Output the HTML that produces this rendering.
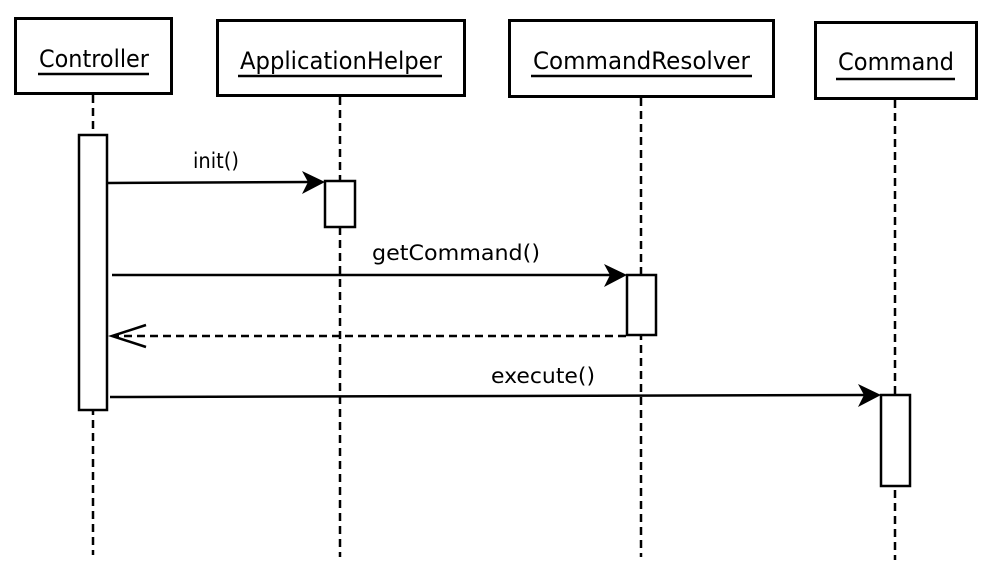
<!DOCTYPE html>
<html><head><meta charset="utf-8"><style>
html,body{margin:0;padding:0;background:#fff;}
svg{display:block;}
.h{font-family:"DejaVu Sans","Liberation Sans",sans-serif;font-size:24px;fill:#000;}
.m{font-family:"DejaVu Sans","Liberation Sans",sans-serif;font-size:21px;fill:#000;}
</style></head><body>
<svg width="991" height="575" viewBox="0 0 991 575" xmlns="http://www.w3.org/2000/svg">
<g fill="#fff" stroke="#000" stroke-width="3">
<rect x="15.5" y="18.5" width="156" height="75"/>
<rect x="217.5" y="20.5" width="247" height="75"/>
<rect x="509.5" y="20.5" width="264" height="76"/>
<rect x="815.5" y="22.5" width="161" height="76"/>
</g>
<text class="h" x="39" y="67" textLength="110" lengthAdjust="spacingAndGlyphs">Controller</text>
<text class="h" x="240" y="69" textLength="202" lengthAdjust="spacingAndGlyphs">ApplicationHelper</text>
<text class="h" x="533" y="69" textLength="217" lengthAdjust="spacingAndGlyphs">CommandResolver</text>
<text class="h" x="838" y="70" textLength="116" lengthAdjust="spacingAndGlyphs">Command</text>
<g stroke="#000" stroke-width="2.5">
<line x1="38" y1="74" x2="149" y2="74"/>
<line x1="238" y1="76" x2="442" y2="76"/>
<line x1="531" y1="76" x2="752" y2="76"/>
<line x1="836" y1="79" x2="955" y2="79"/>
</g>
<g stroke="#000" stroke-width="2.5" stroke-dasharray="8,5" fill="none">
<line x1="93" y1="95" x2="93" y2="555"/>
<line x1="340" y1="97" x2="340" y2="557"/>
<line x1="641" y1="98" x2="641" y2="557"/>
<line x1="895" y1="100" x2="895" y2="560"/>
</g>
<g fill="#fff" stroke="#000" stroke-width="2.5">
<rect x="79" y="135" width="28" height="275"/>
<rect x="325" y="181" width="30" height="46"/>
<rect x="627" y="275" width="29" height="60"/>
<rect x="881" y="395" width="29" height="91"/>
</g>
<g stroke="#000" stroke-width="2.5" fill="none">
<line x1="108" y1="183" x2="312" y2="182"/>
<line x1="112" y1="275" x2="612" y2="275"/>
<line x1="110" y1="397" x2="866" y2="395"/>
<line x1="626" y1="336" x2="114" y2="336" stroke-dasharray="8,5"/>
<polyline points="146,325 112,336 146,347"/>
</g>
<g fill="#000">
<polygon points="325,182 302,171 308,182 302,194"/>
<polygon points="627,275 604,264 610,275 604,287"/>
<polygon points="881,395 858,384 864,395 858,407"/>
</g>
<text class="m" x="193" y="168" textLength="46" lengthAdjust="spacingAndGlyphs">init()</text>
<text class="m" x="372" y="260" textLength="168" lengthAdjust="spacingAndGlyphs">getCommand()</text>
<text class="m" x="491" y="383" textLength="104" lengthAdjust="spacingAndGlyphs">execute()</text>
</svg>
</body></html>
